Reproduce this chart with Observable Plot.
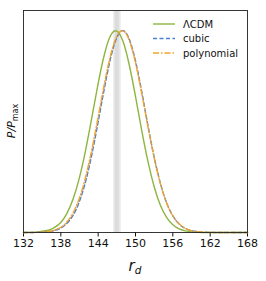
<!DOCTYPE html>
<html><head><meta charset="utf-8">
<script src="https://cdn.jsdelivr.net/npm/d3@7"></script>
<script src="https://cdn.jsdelivr.net/npm/@observablehq/plot@0.6"></script>
<style>body{margin:0;background:#fff}svg{font-family:"DejaVu Sans",sans-serif}</style>
</head><body><div id="chart"></div>
<script>
const rd = [132,134,136,137,138,139,140,141,142,143,144,145,146,147,148,149,150,151,152,153,154,155,156,157,158,159,160,162,168];
const lcdm = [0,0.002,0.011,0.025,0.05,0.096,0.168,0.273,0.411,0.573,0.739,0.882,0.976,0.998,0.946,0.83,0.674,0.506,0.352,0.227,0.135,0.075,0.038,0.018,0.008,0.003,0.001,0,0];
const cubic = [0,0.0005,0.004,0.01,0.022,0.046,0.087,0.155,0.255,0.389,0.548,0.715,0.864,0.966,1.0,0.958,0.85,0.698,0.531,0.374,0.244,0.147,0.082,0.042,0.02,0.009,0.004,0.0005,0];
const poly = [0,0.0007,0.005,0.012,0.026,0.053,0.099,0.172,0.277,0.414,0.573,0.737,0.879,0.973,0.999,0.952,0.841,0.689,0.524,0.37,0.242,0.147,0.083,0.043,0.021,0.009,0.004,0.0005,0];
const seriesNames = ["ΛCDM","cubic","polynomial"];
const xTicks = [132,138,144,150,156,162,168];
const bandOuter = [146.5, 147.7];
const bandInner = [146.75, 147.4];

const colors = {"ΛCDM":"#8db53f","cubic":"#4f7fd0","polynomial":"#f2a42a"};
const dashes = {"ΛCDM":null,"cubic":"4,2.5","polynomial":"6,2,1.5,2"};
const vals = {"ΛCDM":lcdm,"cubic":cubic,"polynomial":poly};
const data = seriesNames.flatMap(s => rd.map((x,i)=>({s, x, y: vals[s][i]})));

const plot = Plot.plot({
  width: 266, height: 281,
  marginLeft: 23, marginRight: 19, marginTop: 10, marginBottom: 49,
  style: {fontSize: "11px", fontFamily: "DejaVu Sans, sans-serif", color: "#111", background: "#fff"},
  x: {domain: [132,168], ticks: xTicks, tickSize: 4.5, tickPadding: 2.5, label: null},
  y: {domain: [0, 1.1], axis: null},
  marks: [
    Plot.rectX([{a: bandOuter[0], b: bandOuter[1]}], {x1: "a", x2: "b", y1: 0, y2: 1.1, fill: "#e9e9e9"}),
    Plot.rectX([{a: bandInner[0], b: bandInner[1]}], {x1: "a", x2: "b", y1: 0, y2: 1.1, fill: "#dcdcdc"}),
    ...seriesNames.map(s => Plot.line(data.filter(d=>d.s===s), {x:"x", y:"y", stroke: colors[s], strokeWidth: 1.4, strokeDasharray: dashes[s], curve: "natural"})),
    Plot.frame({stroke: "#222", strokeWidth: 0.9})
  ]
});
document.getElementById("chart").appendChild(plot);
const svg = d3.select(plot);
// legend
const lg = svg.append("g").attr("text-anchor","start");
seriesNames.forEach((s,i) => {
  const y = 24 + i*14.5;
  lg.append("line").attr("x1",153).attr("x2",175).attr("y1",y).attr("y2",y)
    .attr("stroke",colors[s]).attr("stroke-width",1.4).attr("stroke-dasharray",dashes[s]);
  lg.append("text").attr("x",183).attr("y",y).attr("dy","0.35em").attr("font-size",10).attr("fill","#111").attr("text-anchor","start").text(s);
});
// axis labels
const xl = svg.append("text").attr("x", 135).attr("y", 271).attr("text-anchor","middle").attr("font-size",15).attr("fill","#111");
xl.append("tspan").attr("font-style","italic").text("r");
xl.append("tspan").attr("font-style","italic").attr("font-size",10.5).attr("dy",3).text("d");
const yl = svg.append("text").attr("transform","translate(15,121) rotate(-90)").attr("text-anchor","middle").attr("font-size",11).attr("fill","#111");
yl.append("tspan").attr("font-style","italic").text("P/P");
yl.append("tspan").attr("font-size",8).attr("dy",2.5).text("max");
</script></body></html>
